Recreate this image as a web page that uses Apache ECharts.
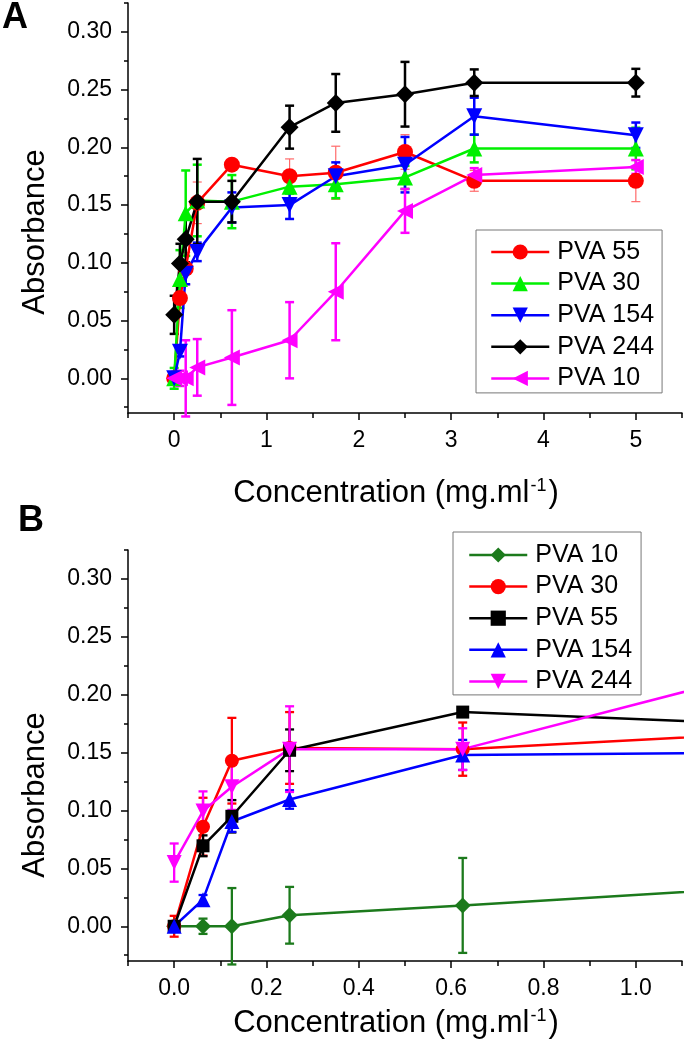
<!DOCTYPE html>
<html><head><meta charset="utf-8">
<script src="https://cdn.jsdelivr.net/npm/echarts@6/dist/echarts.min.js"></script>
<style>html,body{margin:0;padding:0;background:#fff}#c{width:685px;height:1045px}</style>
</head><body><div id="c"></div>
<script>
// Concentration (mg/ml) shared by both panels
const conc = [0, 0.0625, 0.125, 0.25, 0.625, 1.25, 1.75, 2.5, 3.25, 5];
// Absorbance values and error (+/-) per PVA
const pva10 = [0, 0, 0, 0.0095, 0.018, 0.033, 0.075, 0.145, 0.176, 0.183];
const pva10Err = [0.003, 0.0066, 0.033, 0.0245, 0.041, 0.033, 0.042, 0.019, 0.006, 0.006];
const pva30 = [0, 0.086, 0.143, 0.154, 0.153, 0.166, 0.168, 0.174, 0.199, 0.199];
const pva30Err = [0.009, 0.025, 0.037, 0.031, 0.023, 0.006, 0.012, 0.010, 0.012, 0.018];
const pva55 = [0, 0.0695, 0.095, 0.152, 0.185, 0.175, 0.178, 0.196, 0.171, 0.171];
const pva55Err = [0.004, 0.009, 0.014, 0.018, 0.003, 0.015, 0.023, 0.015, 0.009, 0.018];
const pva154 = [0, 0.023, 0.0905, 0.1095, 0.148, 0.150, 0.175, 0.185, 0.227, 0.2105];
const pva154Err = [0.003, 0.004, 0.009, 0.008, 0.013, 0.012, 0.012, 0.024, 0.016, 0.011];
const pva244 = [0.055, 0.0995, 0.1205, 0.153, 0.153, 0.2175, 0.2385, 0.246, 0.256, 0.256];
const pva244Err = [0.0165, 0.017, 0.02, 0.037, 0.018, 0.0186, 0.025, 0.028, 0.0115, 0.012];

// Tick labels
const yTicks = [0, 0.05, 0.10, 0.15, 0.20, 0.25, 0.30];
const yMinor = [-0.025, 0.025, 0.075, 0.125, 0.175, 0.225, 0.275, 0.325];
const xTicksA = [0, 1, 2, 3, 4, 5];
const xMinorA = [-0.5, 0.5, 1.5, 2.5, 3.5, 4.5, 5.5];
const xTicksB = [0, 0.2, 0.4, 0.6, 0.8, 1.0];
const xMinorB = [-0.1, 0.1, 0.3, 0.5, 0.7, 0.9, 1.1];
const xTitle = 'Concentration (mg.ml{sup|-1})';
const yTitle = 'Absorbance';

const FONT = 'Liberation Sans, Arial, sans-serif';
const chart = echarts.init(document.getElementById('c'), null, {renderer: 'canvas'});

function majorX(grid, min, max, ticks, dec) {
  return {
    type: 'value', gridIndex: grid, min: min, max: max, position: 'bottom',
    axisLine: {show: true, onZero: false, lineStyle: {color: '#000', width: 1.5}},
    axisTick: {show: true, customValues: ticks, length: 7, inside: false, lineStyle: {color: '#000', width: 1.5}},
    axisLabel: {show: true, customValues: ticks, margin: 16, color: '#000', fontSize: 23, fontFamily: FONT,
      formatter: v => v.toFixed(dec)},
    splitLine: {show: false}
  };
}
function minorX(grid, min, max, ticks) {
  return {
    type: 'value', gridIndex: grid, min: min, max: max, position: 'bottom',
    axisLine: {show: false, onZero: false},
    axisTick: {show: true, customValues: ticks, length: 5, lineStyle: {color: '#000', width: 1.5}},
    axisLabel: {show: false}, splitLine: {show: false}
  };
}
function majorY(grid) {
  return {
    type: 'value', gridIndex: grid, min: -0.03, max: 0.325, position: 'left',
    axisLine: {show: true, onZero: false, lineStyle: {color: '#000', width: 1.5}},
    axisTick: {show: true, customValues: yTicks, length: 7, lineStyle: {color: '#000', width: 1.5}},
    axisLabel: {show: true, customValues: yTicks, margin: 16, color: '#000', fontSize: 23, fontFamily: FONT,
      formatter: v => v.toFixed(2)},
    splitLine: {show: false}
  };
}
function minorY(grid) {
  return {
    type: 'value', gridIndex: grid, min: -0.03, max: 0.325, position: 'left',
    axisLine: {show: false, onZero: false},
    axisTick: {show: true, customValues: yMinor, length: 4, lineStyle: {color: '#000', width: 1.5}},
    axisLabel: {show: false}, splitLine: {show: false}
  };
}

function errSeries(id, ys, es, color, width, xi, yi, xmax) {
  const data = [];
  for (let i = 0; i < conc.length; i++) if (conc[i] <= xmax) data.push([conc[i], ys[i], es[i]]);
  return {
    type: 'custom', name: id, xAxisIndex: xi, yAxisIndex: yi, data: data, encode: {x: 0, y: 1},
    silent: true, animation: false,
    renderItem: function (params, api) {
      const x = api.value(0), y = api.value(1), e = api.value(2);
      const t = api.coord([x, y + e]), b = api.coord([x, y - e]);
      const c = 4.5;
      const st = {stroke: color, lineWidth: width};
      return {type: 'group', children: [
        {type: 'line', shape: {x1: t[0], y1: t[1], x2: b[0], y2: b[1]}, style: st},
        {type: 'line', shape: {x1: t[0] - c, y1: t[1], x2: t[0] + c, y2: t[1]}, style: st},
        {type: 'line', shape: {x1: b[0] - c, y1: b[1], x2: b[0] + c, y2: b[1]}, style: st}
      ]};
    }
  };
}
function lineSeries(name, ys, color, symbol, size, rot, xi, yi) {
  return {
    type: 'line', name: name, xAxisIndex: xi, yAxisIndex: yi,
    data: conc.map((x, i) => [x, ys[i]]),
    symbol: symbol, symbolSize: size, symbolRotate: rot, showSymbol: true, clip: true,
    lineStyle: {color: color, width: 2.5}, itemStyle: {color: color, opacity: 1},
    animation: false, emphasis: {disabled: true}
  };
}

const series = [];
// Panel A
const specA = [
  ['PVA 55', pva55, pva55Err, '#ff0000', 'circle', 16, 0, 1.2, '#ff6a6a'],
  ['PVA 30', pva30, pva30Err, '#00f000', 'triangle', 16, 0, 2.5, '#00f000'],
  ['PVA 154', pva154, pva154Err, '#0000ff', 'triangle', 16, 180, 2.5, '#0000ff'],
  ['PVA 244', pva244, pva244Err, '#000000', 'diamond', 18, 0, 2.5, '#000000'],
  ['PVA 10', pva10, pva10Err, '#ff00ff', 'triangle', 16, 90, 2.5, '#ff00ff']
];
specA.forEach(s => {
  series.push(errSeries('errA ' + s[0], s[1], s[2], s[8], s[7], 0, 0, 5.5));
  series.push(lineSeries(s[0], s[1], s[3], s[4], s[5], s[6], 0, 0));
});
// Panel B
const specB = [
  ['B:PVA 10', pva10, pva10Err, '#1c7a1c', 'diamond', 16, 0],
  ['B:PVA 30', pva30, pva30Err, '#ff0000', 'circle', 14, 0],
  ['B:PVA 55', pva55, pva55Err, '#000000', 'rect', 13, 0],
  ['B:PVA 154', pva154, pva154Err, '#0000ff', 'triangle', 15, 0],
  ['B:PVA 244', pva244, pva244Err, '#ff00ff', 'triangle', 15, 180]
];
specB.forEach(s => {
  series.push(errSeries('errB ' + s[0], s[1], s[2], s[3], 2.3, 2, 2, 1.1));
  series.push(lineSeries(s[0], s[1], s[3], s[4], s[5], s[6], 2, 2));
});

const legendBase = {
  orient: 'vertical', selectedMode: false, borderColor: '#777', borderWidth: 1,
  itemWidth: 58, itemHeight: 19, itemGap: 6.6, backgroundColor: '#fff',
  lineStyle: {width: 2.5},
  textStyle: {color: '#000', fontSize: 25, fontFamily: FONT, lineHeight: 25, padding: [0, 0, 0, 3]}
};

const supRich = {sup: {fontSize: 18, fontFamily: FONT, fill: '#000', verticalAlign: 'top', padding: [0, 2, 14, 1]}};
function titleText(x, y, text, rot) {
  return {type: 'text', x: x, y: y, rotation: rot || 0, silent: true,
    style: {text: text, fontSize: 31, fontFamily: FONT, fill: '#000', align: 'center', verticalAlign: 'middle', rich: supRich}};
}

chart.setOption({
  backgroundColor: '#fff',
  animation: false,
  grid: [
    {left: 128, top: 3, width: 554, height: 410, containLabel: false},
    {left: 128, top: 550, width: 554, height: 411, containLabel: false}
  ],
  xAxis: [
    majorX(0, -0.5, 5.5, xTicksA, 0),
    minorX(0, -0.5, 5.5, xMinorA),
    majorX(1, -0.1, 1.1, xTicksB, 1),
    minorX(1, -0.1, 1.1, xMinorB)
  ],
  yAxis: [majorY(0), minorY(0), majorY(1), minorY(1)],
  legend: [
    Object.assign({}, legendBase, {left: 476, top: 230, padding: [9.5, 8, 2, 14],
      data: specA.map(s => s[0])}),
    Object.assign({}, legendBase, {left: 453, top: 532, padding: [10.5, 9, 1, 15],
      data: specB.map(s => s[0]), formatter: n => n.slice(2)})
  ],
  graphic: [
    {type: 'text', left: 2, top: 0, style: {text: 'A', fontSize: 36, fontWeight: 'bold', fontFamily: FONT, fill: '#000'}},
    {type: 'text', left: 18, top: 503, style: {text: 'B', fontSize: 36, fontWeight: 'bold', fontFamily: FONT, fill: '#000'}},
    titleText(396, 493, xTitle),
    titleText(396, 1023, xTitle),
    titleText(35, 232, yTitle, Math.PI / 2),
    titleText(35, 795, yTitle, Math.PI / 2)
  ],
  series: series
});
</script></body></html>
